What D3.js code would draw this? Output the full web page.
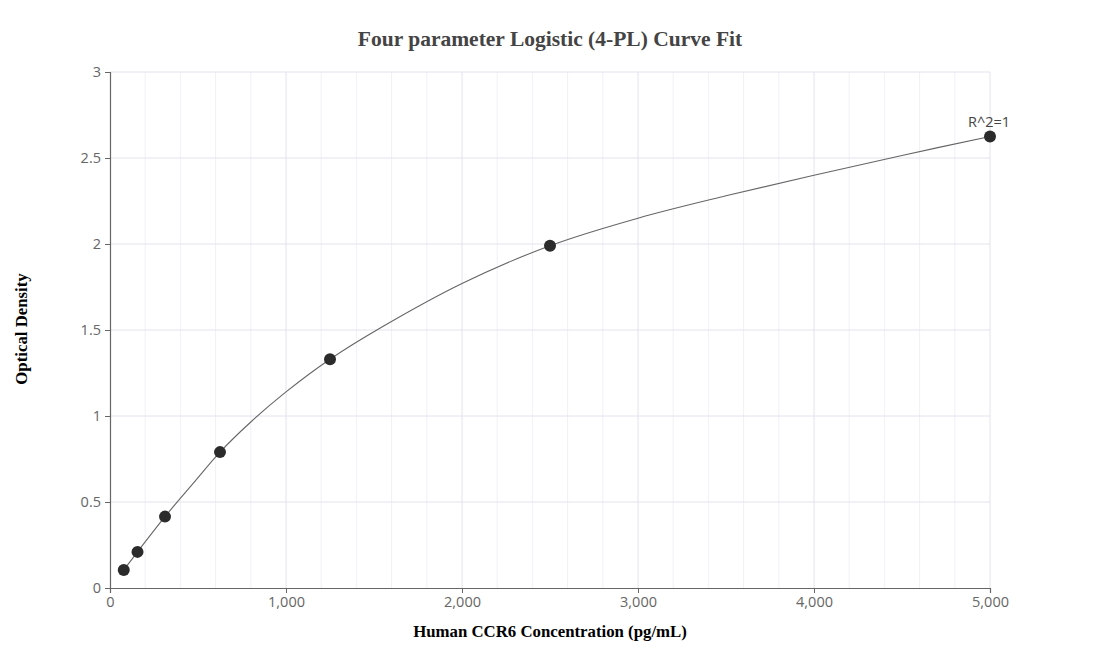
<!DOCTYPE html>
<html>
<head>
<meta charset="utf-8">
<script src="https://cdn.jsdelivr.net/npm/d3@7"></script>
<style>
  body { margin: 0; background: #fff; }
  .tick text { font-family: "Open Sans", sans-serif; font-size: 14.5px; fill: #666; }
</style>
</head>
<body>
<div id="chart"></div>
<script>
// Standard points (concentration pg/mL, OD)
const concentrations = [78.125, 156.25, 312.5, 625, 1250, 2500, 5000];
const densities = [0.105, 0.21, 0.415, 0.79, 1.33, 1.99, 2.625];

// Fitted curve
const curveX = [78.125, 156.25, 312.5, 470, 625, 800, 1000, 1250, 1550, 2000, 2500, 3000, 3500, 4000, 4500, 5000];
const curveY = [0.105, 0.21, 0.415, 0.605, 0.79, 0.965, 1.14, 1.33, 1.52, 1.77, 1.99, 2.15, 2.28, 2.40, 2.515, 2.625];

const xTicks = [0, 1000, 2000, 3000, 4000, 5000];
const xMinor = d3.range(0, 5001, 200);
const yTicks = [0, 0.5, 1, 1.5, 2, 2.5, 3];

const width = 1100, height = 672;
const margin = { top: 72, right: 110, bottom: 84, left: 110 };
const innerWidth = width - margin.left - margin.right;
const innerHeight = height - margin.top - margin.bottom;

const svg = d3.select("#chart")
    .append("svg")
    .attr("width", width)
    .attr("height", height);

const inner = svg.append("g")
    .attr("transform", `translate(${margin.left},${margin.top})`);

const xScale = d3.scaleLinear().domain([0, 5000]).range([0, innerWidth]);
const yScale = d3.scaleLinear().domain([0, 3]).range([innerHeight, 0]);

// minor vertical grid
inner.append("g")
    .selectAll("line")
    .data(xMinor.filter(v => v % 1000 !== 0))
    .join("line")
    .attr("x1", d => xScale(d)).attr("x2", d => xScale(d))
    .attr("y1", 0).attr("y2", innerHeight)
    .attr("stroke", "#f1f1f6");

// major grid
inner.append("g")
    .selectAll("line")
    .data(xTicks.slice(1))
    .join("line")
    .attr("x1", d => xScale(d)).attr("x2", d => xScale(d))
    .attr("y1", 0).attr("y2", innerHeight)
    .attr("stroke", "#e2e3ed");

inner.append("g")
    .selectAll("line")
    .data(yTicks.slice(1))
    .join("line")
    .attr("x1", 0).attr("x2", innerWidth)
    .attr("y1", d => yScale(d)).attr("y2", d => yScale(d))
    .attr("stroke", "#e2e3ed");

// axes
const xAxis = inner.append("g")
    .attr("transform", `translate(0,${innerHeight})`)
    .call(d3.axisBottom(xScale).tickValues(xTicks).tickSize(5).tickPadding(4).tickFormat(d3.format(",")));
const yAxis = inner.append("g")
    .call(d3.axisLeft(yScale).tickValues(yTicks).tickSize(5).tickPadding(4).tickFormat(d => d));

[xAxis, yAxis].forEach(a => {
    a.select(".domain").attr("stroke", "#666").attr("stroke-width", 1.2);
    a.selectAll(".tick line").attr("stroke", "#666");
});

// curve
const line = d3.line()
    .x(d => xScale(d[0]))
    .y(d => yScale(d[1]))
    .curve(d3.curveCatmullRom.alpha(0.5));

inner.append("path")
    .datum(curveX.map((x, i) => [x, curveY[i]]))
    .attr("d", line)
    .attr("fill", "none")
    .attr("stroke", "#666")
    .attr("stroke-width", 1.1);

// points
inner.selectAll("circle")
    .data(concentrations.map((x, i) => [x, densities[i]]))
    .join("circle")
    .attr("cx", d => xScale(d[0]))
    .attr("cy", d => yScale(d[1]))
    .attr("r", 6)
    .attr("fill", "#2b2b2b");

// R^2 label
inner.append("text")
    .attr("x", xScale(5000) - 1)
    .attr("y", yScale(2.625) - 10)
    .attr("text-anchor", "middle")
    .style("font-family", "'Open Sans', sans-serif")
    .style("font-size", "14.5px")
    .attr("fill", "#444")
    .text("R^2=1");

// title and axis labels
svg.append("text")
    .attr("x", width / 2)
    .attr("y", 46)
    .attr("text-anchor", "middle")
    .style("font-family", "'Liberation Serif', serif")
    .style("font-weight", "bold")
    .style("font-size", "21.5px")
    .attr("fill", "#444")
    .text("Four parameter Logistic (4-PL) Curve Fit");

svg.append("text")
    .attr("x", width / 2)
    .attr("y", 637)
    .attr("text-anchor", "middle")
    .style("font-family", "'Liberation Serif', serif")
    .style("font-weight", "bold")
    .style("font-size", "16.8px")
    .attr("fill", "#000")
    .text("Human CCR6 Concentration (pg/mL)");

svg.append("text")
    .attr("transform", `translate(27,${margin.top + innerHeight / 2 - 1}) rotate(-90)`)
    .attr("text-anchor", "middle")
    .style("font-family", "'Liberation Serif', serif")
    .style("font-weight", "bold")
    .style("font-size", "16.8px")
    .attr("fill", "#000")
    .text("Optical Density");
</script>
</body>
</html>
